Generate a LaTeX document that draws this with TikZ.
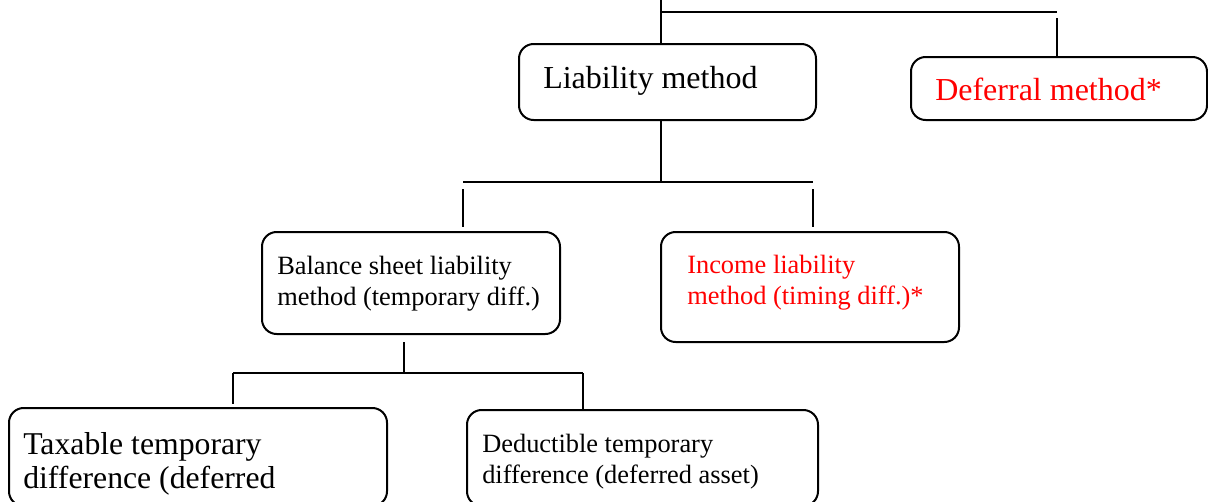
\documentclass[tikz,border=0pt]{standalone}
\usepackage{fontspec}
\setmainfont{Liberation Serif}
\usetikzlibrary{fit}
\definecolor{accent}{RGB}{255,0,0}
\begin{document}
\begin{tikzpicture}[x=0.75pt,y=-0.75pt,
  box/.style={draw=black, line width=1.5pt, rounded corners=11pt, inner sep=0pt},
  link/.style={draw=black, line width=1.5pt},
  txt/.style={inner sep=0pt, anchor=base west, align=left},
  big/.style={font=\fontsize{24}{25}\selectfont},
  small/.style={font=\fontsize{19.8}{22.6}\selectfont},
  note/.style={text=accent}]
\useasboundingbox (0,0) rectangle (1208,501);
\clip (0,0) rectangle (1208,501);

% boxes
\node[box, fit={(519,44) (816,120)}] (liab) {};
\node[box, fit={(911,57) (1207,120)}] (defer) {};
\node[box, fit={(262,232) (560,334)}] (bal) {};
\node[box, fit={(661,232) (959,342)}] (inc) {};
\node[box, fit={(9,408) (387,506)}] (tax) {};
\node[box, fit={(467,410) (818,506)}] (ded) {};

% labels (base anchor sits on the last line)
\node[txt, big] (liabtxt) at (543,88) {Liability method};
\node[txt, big, note] (defertxt) at (935,100) {Deferral method*};
\node[txt, small] (baltxt) at (277,305) {Balance sheet liability\\method (temporary diff.)};
\node[txt, small, note] (inctxt) at (687,304) {Income liability\\method (timing diff.)*};
\node[txt, font=\fontsize{23.8}{24.8}\selectfont] (taxtxt) at (23,488) {Taxable temporary\\difference (deferred};
\node[txt, small] (dedtxt) at (482,483) {Deductible temporary\\difference (deferred asset)};

% top level branch
\coordinate (a0) at (661,-5);
\coordinate (a1) at (661,12);
\coordinate (a2) at (1057,12);
\coordinate (a3) at (1057,18);
\draw[link] (a0) -- (a1 |- liab.north);
\draw[link] (a1) -- (a2);
\draw[link] (a3) -- (a3 |- defer.north);

% liability method branch
\coordinate (b0) at (661,182);
\coordinate (b1) at (463,182);
\coordinate (b2) at (813,182);
\coordinate (b3) at (463,189);
\coordinate (b4) at (463,227);
\coordinate (b5) at (813,189);
\coordinate (b6) at (813,227);
\draw[link] (b0 |- liab.south) -- (b0);
\draw[link] (b1) -- (b2);
\draw[link] (b3) -- (b4);
\draw[link] (b5) -- (b6);

% balance sheet branch
\coordinate (c0) at (404,342);
\coordinate (c1) at (404,373);
\coordinate (c2) at (233,373);
\coordinate (c3) at (583,373);
\coordinate (c4) at (233,404);
\draw[link] (c0) -- (c1);
\draw[link] (c2) -- (c3);
\draw[link] (c2) -- (c4);
\draw[link] (c3) -- (c3 |- ded.north);
\end{tikzpicture}
\end{document}
